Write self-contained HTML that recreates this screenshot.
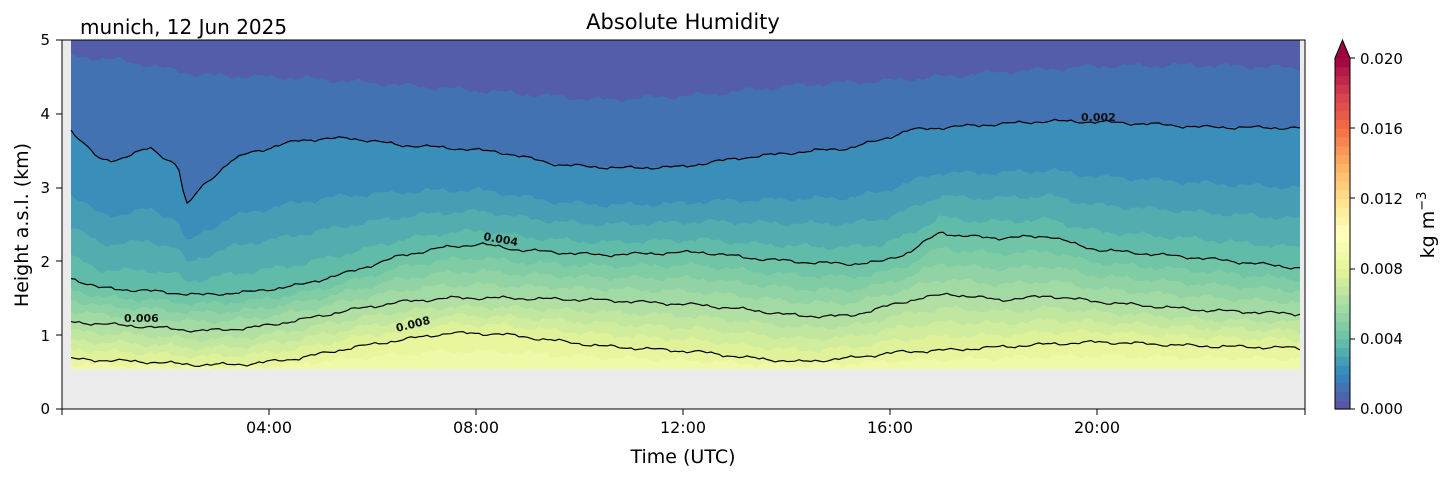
<!DOCTYPE html>
<html><head><meta charset="utf-8"><style>
body{margin:0;background:#fff;width:1454px;height:478px;overflow:hidden;font-family:"Liberation Sans","DejaVu Sans",sans-serif}
svg text{font-family:"DejaVu Sans","Liberation Sans",sans-serif}
</style></head><body>
<svg id="s" width="1454" height="478" xmlns="http://www.w3.org/2000/svg">
<rect x="62" y="40" width="1243" height="369" fill="#ebebeb"/>
<g id="bands"></g>
<g id="lines" fill="none" stroke="#000" stroke-width="1.2"></g>
<g font-size="11" font-weight="bold" fill="#111">
<text x="1081" y="121">0.002</text>
<text x="483" y="240" transform="rotate(10 483 240)">0.004</text>
<text x="124" y="322">0.006</text>
<text x="397" y="332" transform="rotate(-14 397 332)">0.008</text>
</g>
<rect x="62" y="40" width="1243" height="369" fill="none" stroke="#000" stroke-width="1"/>
<g id="ticks" stroke="#000" stroke-width="1"></g>
<g font-size="15" fill="#000" text-anchor="end">
<text x="50" y="414">0</text><text x="50" y="341">1</text><text x="50" y="267">2</text>
<text x="50" y="193">3</text><text x="50" y="119">4</text><text x="50" y="45">5</text>
</g>
<g font-size="16" fill="#000" text-anchor="middle">
<text x="269" y="433">04:00</text><text x="476" y="433">08:00</text><text x="683" y="433">12:00</text>
<text x="890" y="433">16:00</text><text x="1097" y="433">20:00</text>
</g>
<text x="683" y="463" font-size="19" text-anchor="middle">Time (UTC)</text>
<text x="28" y="225" font-size="19" text-anchor="middle" transform="rotate(-90 28 225)">Height a.s.l. (km)</text>
<text x="683" y="29" font-size="21" text-anchor="middle">Absolute Humidity</text>
<text x="80" y="34" font-size="20">munich, 12 Jun 2025</text>
<g id="cb"></g>
<g font-size="15" fill="#000">
<text x="1360" y="414">0.000</text><text x="1360" y="344">0.004</text><text x="1360" y="274">0.008</text>
<text x="1360" y="204">0.012</text><text x="1360" y="134">0.016</text><text x="1360" y="64">0.020</text>
</g>
<text x="1434" y="225" font-size="19" text-anchor="middle" transform="rotate(-90 1434 225)">kg m<tspan dy="-8" font-size="13">−3</tspan></text>
</svg>
<script>
(function(){
const NS="http://www.w3.org/2000/svg";
function el(t,a,p){const e=document.createElementNS(NS,t);for(const k in a)e.setAttribute(k,a[k]);p.appendChild(e);return e;}
const sp=["#5e4fa2","#3288bd","#66c2a5","#abdda4","#e6f598","#ffffbf","#fee08b","#fdae61","#f46d43","#d53e4f","#9e0142"];
function hx(h){return [parseInt(h.substr(1,2),16),parseInt(h.substr(3,2),16),parseInt(h.substr(5,2),16)];}
function cmap(t){t=Math.max(0,Math.min(1,t));const f=t*10,i=Math.min(9,Math.floor(f)),r=f-i;const a=hx(sp[i]),b=hx(sp[i+1]);return "rgb("+a.map((v,k)=>Math.round(v+(b[k]-v)*r)).join(",")+")";}
function interp(pts,x){for(let i=0;i<pts.length-1;i++){if(x<=pts[i+1][0]){const r=(x-pts[i][0])/(pts[i+1][0]-pts[i][0]);return pts[i][1]+(pts[i+1][1]-pts[i][1])*r;}}return pts[pts.length-1][1];}
const ctop=[[71,56],[120,60],[200,75],[300,78],[400,85],[500,92],[600,100],[700,95],[800,85],[900,80],[1000,72],[1100,66],[1200,65],[1300,68]];
const c2=[[71,130],[85,145],[100,160],[115,160],[130,155],[150,148],[165,158],[178,165],[182,185],[186,206],[192,200],[200,188],[215,175],[230,162],[250,152],[270,148],[300,140],[350,138],[400,145],[450,148],[500,152],[560,165],[620,168],[680,167],[740,158],[800,152],[850,148],[880,140],[910,130],[950,127],[1000,124],[1050,121],[1100,122],[1150,124],[1200,127],[1300,128]];
const c4=[[71,278],[100,288],[150,291],[200,295],[250,292],[300,285],[350,272],[400,256],[440,248],[480,244],[520,250],[600,255],[700,252],[750,258],[800,262],[850,264],[880,262],[910,252],[940,232],[960,236],[1000,238],[1050,236],[1080,246],[1100,250],[1200,258],[1300,268]];
const c6=[[71,322],[150,327],[200,331],[250,328],[300,320],[350,310],[400,302],[450,298],[500,298],[600,300],[700,305],[750,310],[800,316],[850,316],[880,308],[920,298],[950,294],[1000,300],[1050,296],[1100,302],[1200,310],[1300,314]];
const c8=[[71,359],[150,362],[200,365],[250,364],[300,358],[350,348],[400,340],[450,333],[500,334],[550,340],[600,346],[700,352],[750,358],[800,362],[850,358],[900,352],[950,350],[1000,347],[1050,344],[1100,342],[1200,346],[1300,348]];
const X0=71,X1=1300,step=4,xs=[];for(let x=X0;x<=X1;x+=step)xs.push(x);if(xs[xs.length-1]!=X1)xs.push(X1);
function jit(x,s){return 1.2*Math.sin(x*0.13+s)+0.8*Math.sin(x*0.37+s*2.1)+0.5*Math.sin(x*0.71+s*3.3);}
function levelY(v,x){
 const yt=interp(ctop,x),y2=interp(c2,x),y4=interp(c4,x),y6=interp(c6,x),y8=interp(c8,x);
 if(v<=0.001)return yt;
 if(v<=0.002){return yt+(y2-yt)*(v-0.001)/0.001;}
 if(v<=0.004){const r=(v-0.002)/0.002;return y2+(y4-y2)*Math.pow(r,1.0)*0.9+ (r>0?(y4-y2)*0.1*r:0) + (y4-y2)*0.25*Math.sin(Math.PI*r)*(r<0.5?1:0.6);}
 if(v<=0.006)return y4+(y6-y4)*(v-0.004)/0.002;
 if(v<=0.008)return y6+(y8-y6)*(v-0.006)/0.002;
 return y8+(369-y8)*(v-0.008)/0.001;
}
const bands=document.getElementById("bands");
el("rect",{x:X0,y:40,width:X1-X0,height:329,fill:cmap(0.0005/0.02)},bands);
for(let k=2;k<=17;k++){
 if(k==3)continue;
 const v=k*0.0005;
 let d="M"+X0+",369";
 const isLine=[0.002,0.004,0.006,0.008].some(l=>Math.abs(l-v)<1e-9);
 xs.forEach(x=>{let y=levelY(v,x);if(!isLine)y+=jit(x,k)*1.6;y=Math.max(40,Math.min(369,y));d+=" L"+x+","+y.toFixed(1);});
 d+=" L"+X1+",369 Z";
 let col=cmap((v+0.00025)/0.02);
 if(k==2)col="rgb(66,114,178)";
 el("path",{d:d,fill:col},bands);
}
const lines=document.getElementById("lines");
[[0.002,1],[0.004,2],[0.006,3],[0.008,4]].forEach(([v,s])=>{let d="";xs.forEach((x,i)=>{const y=levelY(v,x)+jit(x,s*5)*0.9;d+=(i?" L":"M")+x+","+y.toFixed(1);});el("path",{d:d},lines);});
const tk=document.getElementById("ticks");
[62,269,476,683,890,1097,1305].forEach(x=>el("line",{x1:x,y1:409,x2:x,y2:415},tk));
[409,335,261,188,114,40].forEach(y=>el("line",{x1:56,y1:y,x2:62,y2:y},tk));
[58,128,198,269,339,409].forEach(y=>el("line",{x1:1350,y1:y,x2:1355,y2:y},tk));
const cb=document.getElementById("cb");
const h=(409-58)/40;
for(let i=0;i<40;i++){el("rect",{x:1335,y:(409-(i+1)*h).toFixed(2),width:15,height:(h+0.6).toFixed(2),fill:cmap((i+0.5)/40)},cb);}
el("polygon",{points:"1335,58 1350,58 1342.5,40",fill:"#9e0142"},cb);
el("polygon",{points:"1335,409 1335,58 1342.5,40 1350,58 1350,409",fill:"none",stroke:"#000","stroke-width":1},cb);
})();
</script>
</body></html>
